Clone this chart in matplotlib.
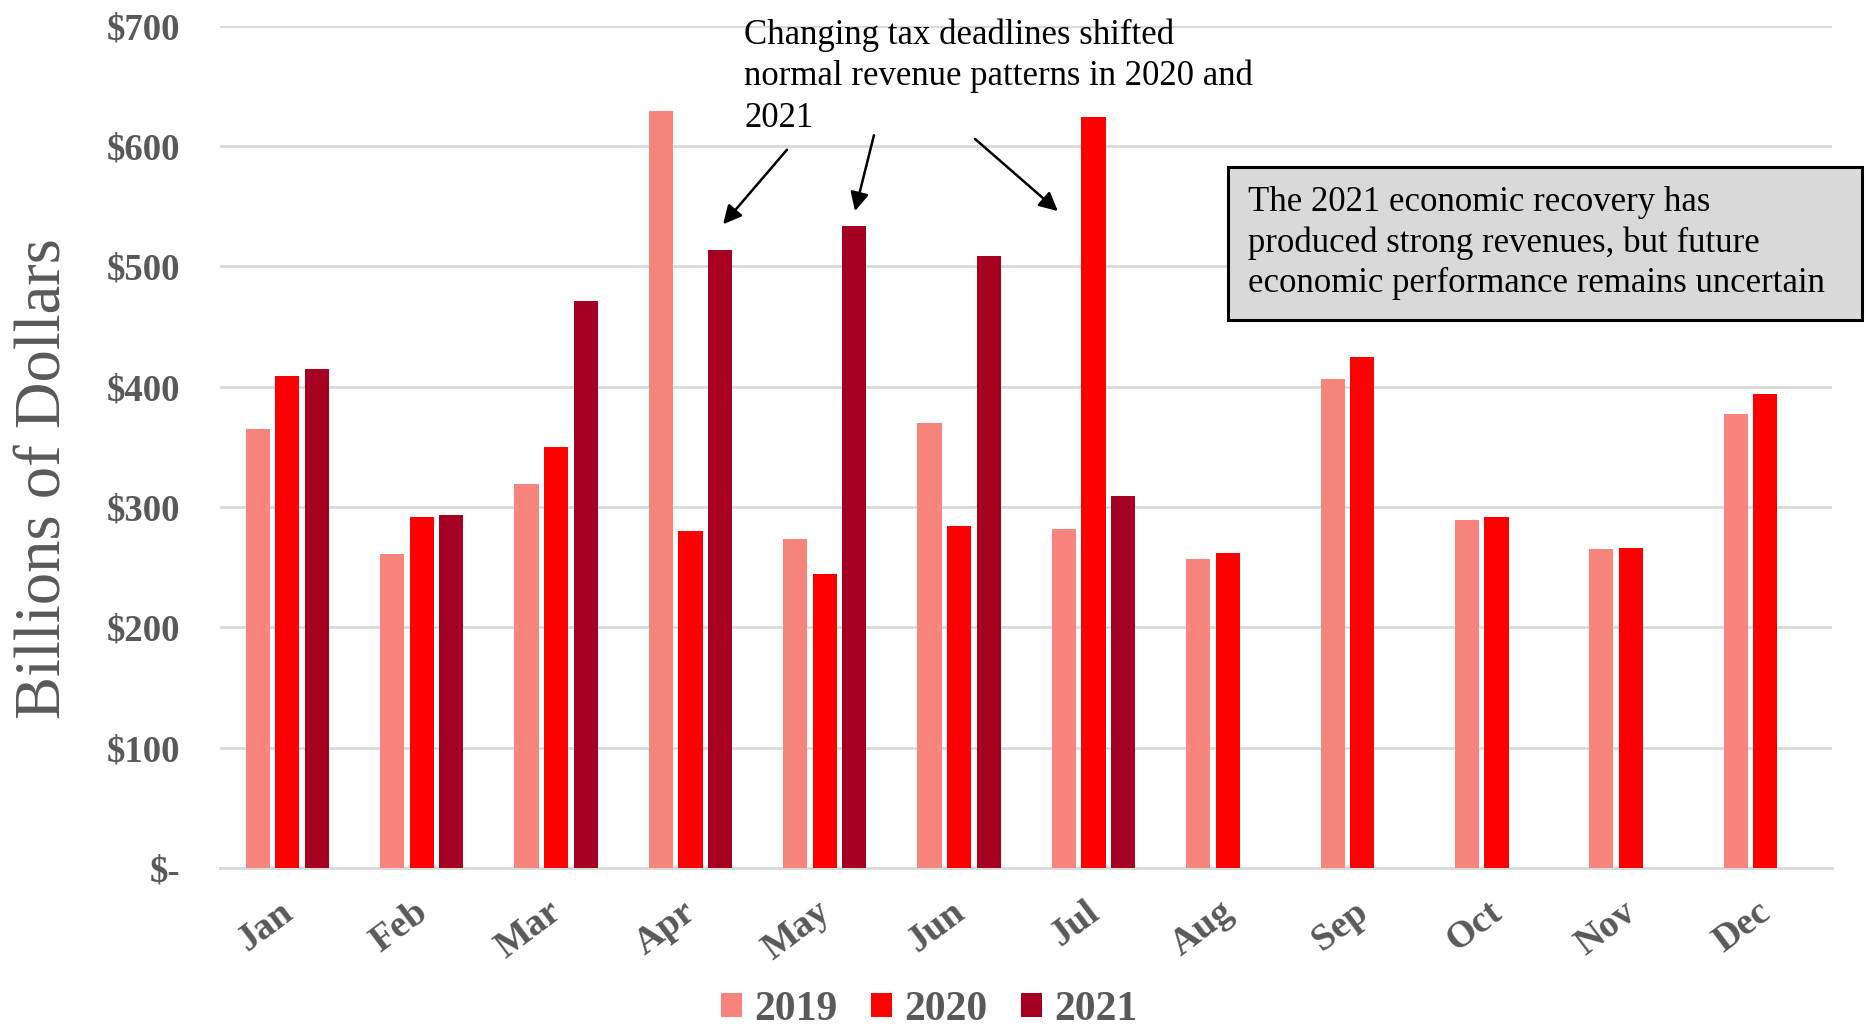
import matplotlib
matplotlib.use("Agg")
import matplotlib.pyplot as plt
import matplotlib.patches as mpatches
import numpy as np

plt.rcParams['font.family'] = ['Liberation Serif', 'DejaVu Serif']

months = ["Jan", "Feb", "Mar", "Apr", "May", "Jun",
          "Jul", "Aug", "Sep", "Oct", "Nov", "Dec"]
rev_2019 = [365, 261, 319, 629, 273, 370, 282, 257, 406, 289, 265, 377]
rev_2020 = [409, 292, 350, 280, 244, 284, 624, 262, 425, 292, 266, 394]
rev_2021 = [415, 293, 471, 514, 534, 509, 309]   # Jan-Jul only
years = ["2019", "2020", "2021"]
colors = ["#F8857B", "#FF0000", "#A50021"]
yticks = [0, 100, 200, 300, 400, 500, 600, 700]
ytick_labels = ["$-", "$100", "$200", "$300", "$400", "$500", "$600", "$700"]

gray = "#595959"

fig = plt.figure(figsize=(18.66, 10.32), dpi=100)
ax = fig.add_axes([0.118, 0.159, 0.864, 0.816])

x = np.arange(len(months))
w = 0.18
step = 0.22
series = [rev_2019, rev_2020, rev_2021]
for i, (vals, c, lab) in enumerate(zip(series, colors, years)):
    xs = x[:len(vals)] + (i - 1) * step
    ax.bar(xs, vals, width=w, color=c, label=lab, zorder=3)

ax.set_xlim(-0.5, 11.5)
ax.set_ylim(0, 700)
ax.set_yticks(yticks)
ax.set_yticklabels(ytick_labels)
# labels are rotated and right-aligned, nudge them a bit right like the original
ax.set_xticks(x + 0.09)
ax.set_xticklabels(months, rotation=37, ha='right')

for lbl in ax.get_yticklabels():
    lbl.set_fontweight('bold')
    lbl.set_fontsize(26.5)
    lbl.set_color(gray)
for lbl in ax.get_xticklabels():
    lbl.set_fontweight('bold')
    lbl.set_fontsize(27.5)
    lbl.set_color(gray)

ax.tick_params(axis='y', length=0, pad=29)
ax.tick_params(axis='x', length=0, pad=19)
ax.grid(axis='y', color='#D9D9D9', linewidth=2, zorder=0)
for s in ['top', 'right', 'left']:
    ax.spines[s].set_visible(False)
ax.spines['bottom'].set_color('#D9D9D9')
ax.spines['bottom'].set_linewidth(2)

fig.text(45 / 1866, 1 - 479 / 1032, "Billions of Dollars", rotation=90,
         ha='center', va='center', fontsize=46.5, color=gray)

# callout text + arrows
fig.text(744 / 1866, 1 - 18 / 1032,
         "Changing tax deadlines shifted\nnormal revenue patterns in 2020 and\n2021",
         ha='left', va='top', fontsize=25, linespacing=1.33, color='black')
arrows = [((3.719, 597), (3.243, 535)),
          ((4.366, 609), (4.225, 546)),
          ((5.118, 606), (5.735, 546))]
for tail, head in arrows:
    ax.annotate("", xy=head, xytext=tail,
                arrowprops=dict(arrowstyle='-|>', color='black', lw=1.8,
                                mutation_scale=28, shrinkA=0, shrinkB=0),
                zorder=5)

# grey note box
box = mpatches.Rectangle((1228 / 1866, 1 - 320 / 1032), 634 / 1866, 153 / 1032,
                         transform=fig.transFigure, facecolor='#D9D9D9',
                         edgecolor='black', linewidth=2.2, zorder=4)
fig.patches.append(box)
fig.text(1248 / 1866, 1 - 243 / 1032,
         "The 2021 economic recovery has\nproduced strong revenues, but future\neconomic performance remains uncertain",
         ha='left', va='center', fontsize=25, linespacing=1.3, color='black', zorder=5)

leg = fig.legend(loc='lower center', bbox_to_anchor=(0.498, -0.033), ncol=3,
                 frameon=False, handlelength=0.5, handleheight=0.5,
                 handletextpad=0.3, columnspacing=0.8,
                 prop={'size': 30, 'weight': 'bold'}, labelcolor=gray)

fig.savefig("out.png", dpi=100)
